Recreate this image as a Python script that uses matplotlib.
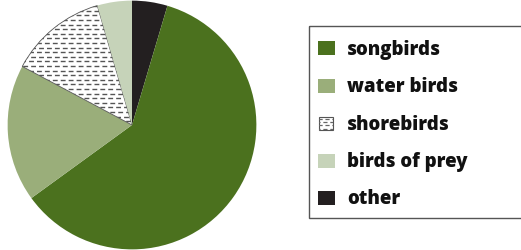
import matplotlib
matplotlib.use("Agg")
import matplotlib.pyplot as plt
from matplotlib.patches import Rectangle
import numpy as np

plt.rcParams['lines.scale_dashes'] = False

# Data (legend order)
categories = ["songbirds", "water birds", "shorebirds", "birds of prey", "other"]
values = [60.4, 17.8, 12.7, 4.5, 4.6]
colors = ["#4b711e", "#9aae7a", "#ffffff", "#c6d3b9", "#231f20"]

# drawing order clockwise from 12 o'clock
pie_order = [4, 0, 1, 2, 3]

fig = plt.figure(figsize=(5.21, 2.5), dpi=100)
ax = fig.add_axes([7 / 521, 0, 250 / 521, 1])
wedges, _ = ax.pie([values[i] for i in pie_order],
                   colors=[colors[i] for i in pie_order],
                   startangle=90, counterclock=False, radius=0.995,
                   wedgeprops=dict(linewidth=0, edgecolor='none'))
ax.set_xlim(-1, 1)
ax.set_ylim(-1, 1)
ax.set_aspect('equal')
ax.axis('off')

# dashed pattern for shorebirds
shore = wedges[pie_order.index(2)]
shore.set_edgecolor('#555555')
shore.set_linewidth(0.6)
step = 4.6 / 125.0
ys = np.arange(-1, 1, step)
for k, y in enumerate(ys):
    ln, = ax.plot([-1.1, 1.1], [y, y], color='#555555', lw=1.0,
                  linestyle=(1.5 * (k % 2), (3.5, 2.2)), solid_capstyle='butt')
    ln.set_clip_path(shore)

# legend in pixel coordinates
lax = fig.add_axes([0, 0, 1, 1])
lax.set_xlim(0, 521)
lax.set_ylim(250, 0)
lax.axis('off')
lax.add_patch(Rectangle((308.5, 25.5), 230, 192.5, fill=False,
                        edgecolor='#555555', lw=1.0))
baselines = [55, 92.5, 130, 167.5, 204.5]
for i, (cat, col) in enumerate(zip(categories, colors)):
    b = baselines[i]
    if cat == "shorebirds":
        r = Rectangle((318.5, b - 13.5), 14, 13, facecolor='white',
                      edgecolor='#555555', lw=0.8)
        lax.add_patch(r)
        for j, yy in enumerate(np.arange(b - 11, b, 3.2)):
            ln, = lax.plot([318, 334], [yy, yy], color='#666666', lw=0.9,
                           linestyle=(1.5 * (j % 2), (3, 2)))
            ln.set_clip_path(r)
    else:
        lax.add_patch(Rectangle((318, b - 14), 17, 14, facecolor=col,
                                edgecolor='none'))
    lax.text(347, b, cat, fontsize=13.4, fontweight='heavy',
             family=['Open Sans', 'DejaVu Sans'], va='baseline', ha='left',
             color='#111111')

fig.savefig("out.png", dpi=100)
